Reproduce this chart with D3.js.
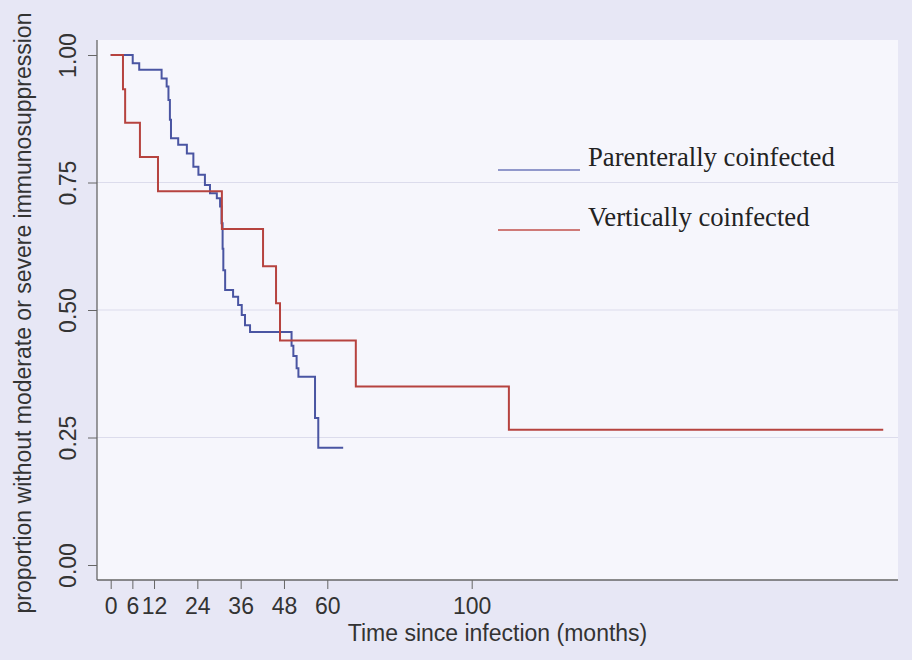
<!DOCTYPE html>
<html>
<head>
<meta charset="utf-8">
<script src="https://cdn.jsdelivr.net/npm/d3@7"></script>
<style>
  html, body { margin: 0; padding: 0; background: #e7e7f5; }
  svg { display: block; }
</style>
</head>
<body>
<div id="main"></div>
<script>
// Kaplan-Meier estimates (months, proportion)
const parentTimes = [0, 6.1, 7.9, 14.1, 15.5, 16.0, 16.4, 16.7, 18.7, 21.1, 22.9, 24.3, 26.1, 27.5, 29.4, 30.3,
  30.7, 31.0, 31.2, 31.7, 33.9, 35.3, 36.3, 37.2, 38.6, 50.1, 50.6, 51.5, 52.0, 56.6, 57.5, 64.4]
const parentSurv = [1, 0.984, 0.971, 0.954, 0.938, 0.912, 0.873, 0.837, 0.824, 0.807, 0.781, 0.765, 0.745, 0.729, 0.719, 0.703,
  0.67, 0.62, 0.578, 0.539, 0.526, 0.51, 0.49, 0.47, 0.457, 0.43, 0.41, 0.386, 0.369, 0.288, 0.23, 0.23]

const vertTimes = [0, 3.4, 4.0, 8.1, 13.1, 30.8, 42.2, 45.8, 46.9, 67.9, 110.3, 214]
const vertSurv = [1, 0.933, 0.867, 0.8, 0.733, 0.659, 0.586, 0.513, 0.44, 0.35, 0.265, 0.265]

const xTicks = [0, 6, 12, 24, 36, 48, 60, 100]
const yTicks = [0, 0.25, 0.5, 0.75, 1]
const legendLabels = ['Parenterally coinfected', 'Vertically coinfected']

const width = 912
const height = 660
const blue = '#4a55a2'
const red = '#b6433f'
const sansFont = '23px "Liberation Sans", Arial, sans-serif'

const svg = d3.select('#main').append('svg')
  .attr('width', width)
  .attr('height', height)

svg.append('rect')
  .attr('width', width).attr('height', height)
  .attr('fill', '#e7e7f5')

// scales
const x = d3.scaleLinear().domain([0, 100]).range([110.7, 471.7])
const y = d3.scaleLinear().domain([0, 1]).range([565, 55])

// plot region bounds
const plotLeft = 97, plotRight = 898, plotTop = 40, plotBottom = 580

svg.append('rect')
  .attr('x', plotLeft).attr('y', plotTop)
  .attr('width', plotRight - plotLeft).attr('height', plotBottom - plotTop)
  .attr('fill', '#f6f6fc')

// faint gridlines
svg.append('g')
  .selectAll('line')
  .data(yTicks.filter(d => d > 0 && d < 1))
  .enter().append('line')
  .attr('x1', plotLeft).attr('x2', plotRight)
  .attr('y1', d => y(d)).attr('y2', d => y(d))
  .attr('stroke', '#dcdcec')
  .attr('stroke-width', 1)

// y axis
const yAxis = svg.append('g')
  .attr('transform', `translate(${plotLeft},0)`)
  .call(d3.axisLeft(y).tickValues(yTicks).tickFormat(d3.format('.2f')).tickSize(9))
yAxis.select('.domain').remove()
yAxis.selectAll('.tick line').attr('stroke', '#666')
yAxis.selectAll('.tick text')
  .attr('x', null).attr('dy', null)
  .attr('text-anchor', 'middle')
  .attr('transform', 'translate(-21,0) rotate(-90)')
  .attr('fill', '#333')
  .style('font', sansFont)

// x axis
const xAxis = svg.append('g')
  .attr('transform', `translate(0,${plotBottom})`)
  .call(d3.axisBottom(x).tickValues(xTicks).tickFormat(d3.format('d')).tickSize(9))
xAxis.select('.domain').remove()
xAxis.selectAll('.tick line').attr('stroke', '#666')
xAxis.selectAll('.tick text')
  .attr('y', 34).attr('dy', null)
  .attr('fill', '#333')
  .style('font', sansFont)

// axis lines
svg.append('line')
  .attr('x1', plotLeft).attr('x2', plotLeft).attr('y1', plotTop).attr('y2', plotBottom)
  .attr('stroke', '#666').attr('stroke-width', 1.3)
svg.append('line')
  .attr('x1', plotLeft).attr('x2', plotRight).attr('y1', plotBottom).attr('y2', plotBottom)
  .attr('stroke', '#666').attr('stroke-width', 1.3)

// axis titles
svg.append('text')
  .attr('transform', `translate(31,${(y(0) + y(1)) / 2 + 3}) rotate(-90)`)
  .attr('text-anchor', 'middle')
  .attr('fill', '#333')
  .style('font', sansFont)
  .text('proportion without moderate or severe immunosuppression')

svg.append('text')
  .attr('x', (plotLeft + plotRight) / 2).attr('y', 641)
  .attr('text-anchor', 'middle')
  .attr('fill', '#333')
  .style('font', sansFont)
  .text('Time since infection (months)')

// survival curves
const line = d3.line()
  .x(d => x(d[0]))
  .y(d => y(d[1]))
  .curve(d3.curveStepAfter)

const parentData = d3.zip(parentTimes, parentSurv)
const vertData = d3.zip(vertTimes, vertSurv)

svg.append('path')
  .datum(parentData)
  .attr('d', line)
  .attr('fill', 'none')
  .attr('stroke', blue)
  .attr('stroke-width', 2)

svg.append('path')
  .datum(vertData)
  .attr('d', line)
  .attr('fill', 'none')
  .attr('stroke', red)
  .attr('stroke-width', 2)

// legend
const legend = svg.append('g')
const legendColors = ['#6f79bb', '#c2504c']
const legendY = [170, 230]
legendLabels.forEach((label, i) => {
  legend.append('line')
    .attr('x1', 498).attr('x2', 580)
    .attr('y1', legendY[i]).attr('y2', legendY[i])
    .attr('stroke', legendColors[i])
    .attr('stroke-width', 1.3)
  legend.append('text')
    .attr('x', 588).attr('y', legendY[i] - 4)
    .attr('fill', '#222')
    .style('font', '26.7px "Liberation Serif", "Times New Roman", serif')
    .text(label)
})
</script>
</body>
</html>
